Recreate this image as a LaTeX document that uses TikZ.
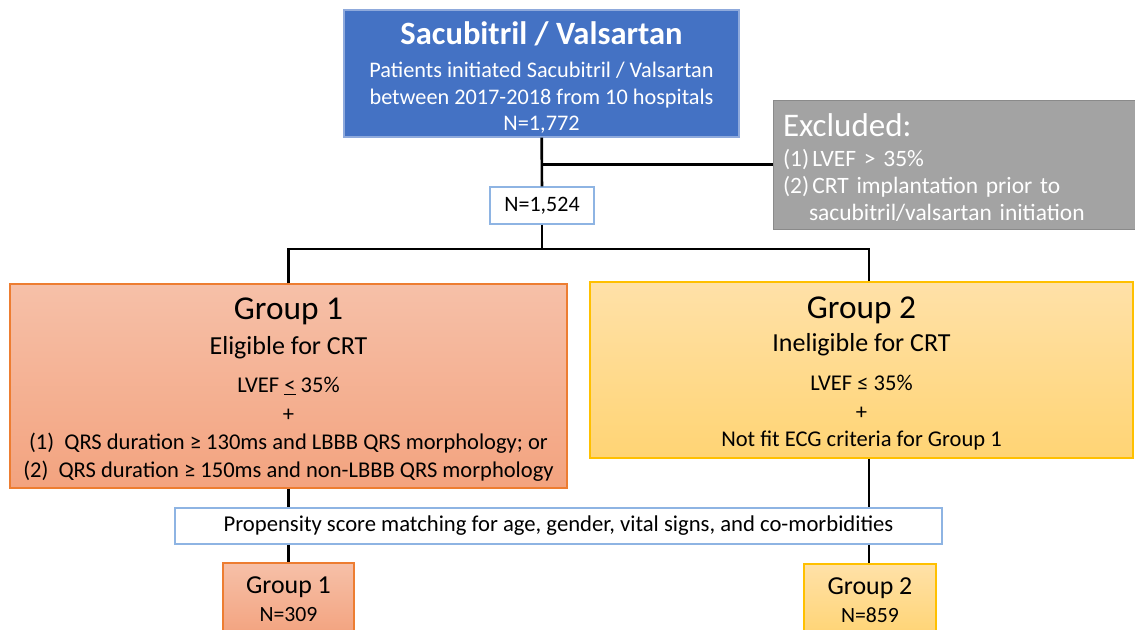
\documentclass[tikz,border=0pt]{standalone}
\usepackage{fontspec}
\setmainfont{Carlito}
\definecolor{svblue}{HTML}{4472C4}
\definecolor{svline}{HTML}{8FAADC}
\definecolor{exgray}{HTML}{A3A3A3}
\definecolor{exline}{HTML}{8A8A8A}
\definecolor{oneline}{HTML}{ED7D31}
\definecolor{onetop}{HTML}{F6C0A8}
\definecolor{onebot}{HTML}{F3A37F}
\definecolor{twoline}{HTML}{FFC000}
\definecolor{twotop}{HTML}{FFE1A8}
\definecolor{twobot}{HTML}{FFD474}
\definecolor{pmline}{HTML}{8EB4E3}

\begin{document}
\begin{tikzpicture}[x=0.75pt,y=-0.75pt]
   \tikzstyle{every node}=[inner sep=0pt, align=center]
   \tikzstyle{svbox}=[draw=svline, line width=0.8pt, fill=svblue, text=white, font=\fontsize{16.7}{19.5}\selectfont]
   \tikzstyle{exbox}=[draw=exline, line width=0.6pt, fill=exgray, text=white, inner xsep=7.5pt, align=left, font=\fontsize{17.6}{20}\selectfont]
   \tikzstyle{nbox}=[draw=pmline, line width=0.8pt, fill=white]
   \tikzstyle{onebox}=[draw=oneline, line width=0.8pt, top color=onetop, bottom color=onebot]
   \tikzstyle{twobox}=[draw=twoline, line width=0.8pt, top color=twotop, bottom color=twobot]
   \tikzstyle{link}=[line width=2pt, black]

   \useasboundingbox (0,0) rectangle (1135,629);
   \clip (0,0) rectangle (1135,629);

\node[svbox, minimum width=296.25pt, minimum height=95.25pt] (sv) at (541.5,73.5)
    {{\bfseries\fontsize{24.4}{28}\selectfont\rule{0pt}{23.5pt}Sacubitril / Valsartan}\\[5pt]
     Patients initiated Sacubitril / Valsartan\\[0.5pt]
     between 2017-2018 from 10 hospitals\\[0.5pt]
     N=1,772};
\node[exbox, minimum width=273pt, minimum height=96.75pt, text width=258pt] (excl) at (955,164.5)
    {{\fontsize{24.75}{28}\selectfont\rule{0pt}{21pt}Excluded:}\\[3pt]
     \makebox[22pt][l]{(1)}LVEF > 35\%\\
     \makebox[22pt][l]{(2)}CRT implantation prior to\\
     \hspace*{19.5pt}sacubitril/valsartan initiation};
\node[nbox, minimum width=78pt, minimum height=27.75pt, font=\fontsize{16.5}{19}\selectfont] (n1524) at (542,205.5) {N=1,524};

\node[onebox, minimum width=417.75pt, minimum height=153pt, font=\fontsize{16.9}{21}\selectfont] (grpone) at (288.5,386)
    {{\fontsize{25}{28}\selectfont\rule{0pt}{21.5pt}Group 1}\\[5pt]
     {\fontsize{19.5}{22}\selectfont Eligible for CRT}\\[7.5pt]
     LVEF \underline{<} 35\%\\[1pt]
     +\\
     (1)\ \ QRS duration ≥ 130ms and LBBB QRS morphology; or\\
     (2)\ \ QRS duration ≥ 150ms and non-LBBB QRS morphology};
\node[twobox, minimum width=407.25pt, minimum height=132pt, font=\fontsize{16.9}{21}\selectfont] (grptwo) at (861.5,370)
    {{\fontsize{25}{28}\selectfont\rule{0pt}{21.5pt}Group 2}\\[4pt]
     {\fontsize{19.5}{22}\selectfont Ineligible for CRT}\\[8pt]
     LVEF ≤ 35\%\\[1pt]
     +\\[-0.5pt]
     Not fit ECG criteria for Group 1};

\node[nbox, minimum width=575.25pt, minimum height=27pt, font=\fontsize{17}{19}\selectfont] (psm) at (558.5,526)
    {Propensity score matching for age, gender, vital signs, and co-morbidities};

\node[onebox, minimum width=98.25pt, minimum height=54pt, font=\fontsize{16.3}{19.5}\selectfont] (smone) at (288.5,599)
    {{\fontsize{19.4}{22}\selectfont Group 1}\\[1.5pt] N=309};
\node[twobox, minimum width=99pt, minimum height=54pt, font=\fontsize{16.3}{19.5}\selectfont] (smtwo) at (870,600)
    {{\fontsize{19.4}{22}\selectfont Group 2}\\[1.5pt] N=859};

% connectors
\coordinate (fork) at (542,249);
\coordinate (gtwo) at (869,249);
\draw[link] (sv) -- (n1524);
\draw[link] (excl.west) -- (excl.west -| sv.south);
\draw[link] (n1524) -- (fork);
\draw[link] (grpone.north) |- (gtwo) -- (gtwo |- grptwo.north);
\draw[link] (grpone.south) -- (grpone.south |- psm.north);
\draw[link] (gtwo |- grptwo.south) -- (gtwo |- psm.north);
\draw[link] (psm.south -| smone.north) -- (smone.north);
\draw[link] (gtwo |- psm.south) -- (gtwo |- smtwo.north);

\end{tikzpicture}
\end{document}
